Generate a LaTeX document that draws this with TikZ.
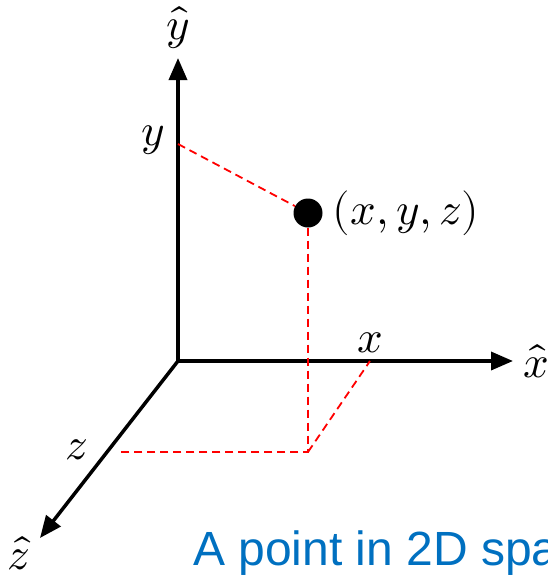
\documentclass[tikz,border=0pt]{standalone}
\usepackage{fontspec}
\usepackage{unicode-math}
\setmathfont{Latin Modern Math}
\usepackage{tikz}
\usetikzlibrary{arrows.meta}
\usetikzlibrary{positioning}
\newfontfamily\captionfont{Liberation Sans}
\definecolor{capblue}{RGB}{0,112,192}

\begin{document}
\begin{tikzpicture}[x=1pt, y=-1pt,
  axis/.style={line width=3.5pt, -{Triangle[length=22pt,width=18pt]}},
  proj/.style={red, line width=1.8pt, dash pattern=on 8pt off 5pt},
  lbl/.style={font=\fontsize{45}{45}\selectfont, inner sep=0pt}]
\useasboundingbox (0,0) rectangle (548,579);
\coordinate (origin) at (178,361);
\coordinate (xend) at (513,361);
\coordinate (yend) at (178,58);
\coordinate (zend) at (40,538);
\node[name=xhat, lbl] at (536,361) {$\hat{x}$};
\node[name=yhat, lbl] at (178,28) {$\hat{y}$};
\node[name=zhat, lbl] at (19,553) {$\hat{z}$};
\node[name=pt, circle, fill, minimum size=29pt, inner sep=0pt] at (308,213) {};
\node[name=ptlabel, lbl, right=10pt of pt] {$(x,y,z)$};
\coordinate (ycut) at (178,144);
\node[name=ylabel, lbl] at (153,140) {$y$};
\coordinate (xcut) at (370,361);
\node[name=xlabel, lbl] at (370,343) {$x$};
\coordinate (corner) at (308,452);
\coordinate (zcut) at (118,452);
\node[name=zlabel, lbl] at (77,450) {$z$};
\node[name=caption, anchor=base west, inner sep=0pt, text=capblue,
  font=\captionfont\fontsize{48}{48}\selectfont] at (193,565) {A point in 2D spa};

\draw[axis] (origin) -- (xend);
\draw[axis] (origin) -- (yend);
\draw[axis] (origin) -- (zend);
\draw[proj] (ycut) -- (pt);
\draw[proj] (pt) -- (corner) -- (zcut);
\draw[proj] (corner) -- (xcut);
\end{tikzpicture}
\end{document}
